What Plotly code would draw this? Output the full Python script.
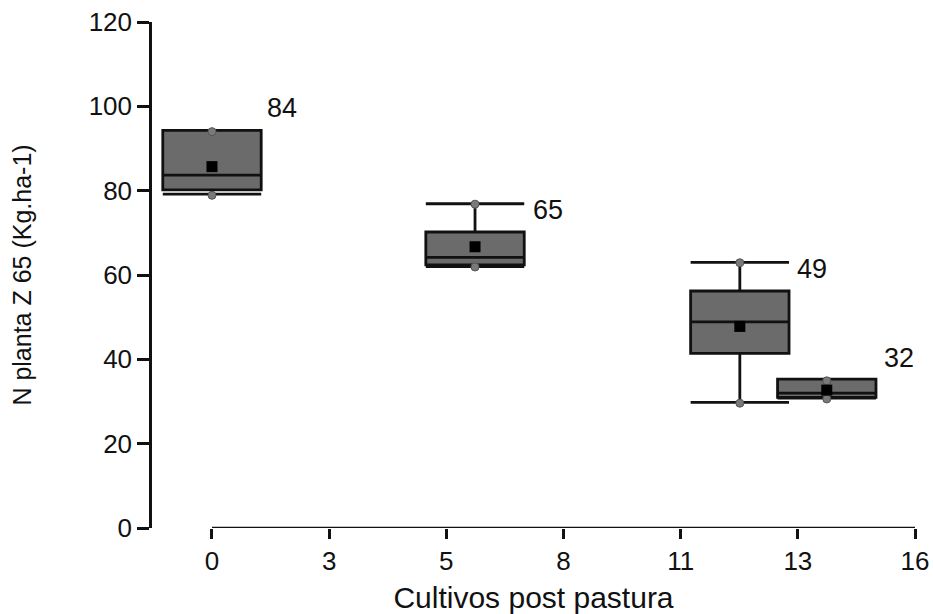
import plotly.graph_objects as go

# ---- data ----
tick_labels = ["0", "3", "5", "8", "11", "13", "16"]
tick_index = [0, 1, 2, 3, 4, 5, 6]
box_pos = [0.0, 2.245, 4.505, 5.247]          # position on the category-index axis
q1 = [80.2, 62.4, 41.4, 31.0]
median = [83.7, 64.2, 48.9, 32.0]
q3 = [94.3, 70.2, 56.2, 35.3]
lower_fence = [79.2, 62.0, 29.8, 30.8]
upper_fence = [94.3, 76.9, 63.0, 35.3]
means = [85.7, 66.7, 47.8, 32.7]
pts_max = [94.0, 76.8, 62.9, 34.9]
pts_min = [78.9, 61.9, 29.6, 30.6]
label_text = ["84", "65", "49", "32"]
label_x = [0.45, 2.72, 4.975, 5.72]
label_y = [99.6, 75.3, 61.4, 40.3]

FONT = "Arial, Liberation Sans, sans-serif"

fig = go.Figure()
fig.add_trace(go.Box(
    x=box_pos, q1=q1, median=median, q3=q3,
    lowerfence=lower_fence, upperfence=upper_fence,
    width=0.84, whiskerwidth=1,
    fillcolor="#6b6b6b", line=dict(color="#111111", width=2.8),
    boxpoints=False, showlegend=False, hoverinfo="skip",
))
fig.add_trace(go.Scatter(
    x=box_pos + box_pos, y=pts_max + pts_min, mode="markers",
    marker=dict(symbol="circle", size=8, color="#7a7a7a",
                line=dict(color="#555555", width=1)),
    showlegend=False, hoverinfo="skip",
))
fig.add_trace(go.Scatter(
    x=box_pos, y=means, mode="markers",
    marker=dict(symbol="square", size=11, color="black"),
    showlegend=False, hoverinfo="skip",
))

for t, x, y in zip(label_text, label_x, label_y):
    fig.add_annotation(x=x, y=y, text=t, showarrow=False, xanchor="left",
                       yanchor="middle", font=dict(family=FONT, size=27, color="#111111"))

# detached x-axis line from first to last tick
fig.add_shape(type="line", xref="x", yref="y", x0=tick_index[0], x1=tick_index[-1],
              y0=0, y1=0, line=dict(color="#111111", width=2.5))

fig.update_layout(
    width=933, height=614,
    margin=dict(l=152, r=18, t=22, b=86, autoexpand=False),
    paper_bgcolor="white", plot_bgcolor="white",
    font=dict(family=FONT, color="#111111"),
    xaxis=dict(
        range=[-0.512, 6.0], tickmode="array", tickvals=tick_index, ticktext=tick_labels,
        showline=False, showgrid=False, zeroline=False, automargin=False,
        ticks="outside", ticklen=10, tickwidth=2.5, tickcolor="#111111",
        tickfont=dict(size=26, family=FONT),
        title=dict(text="Cultivos post pastura", font=dict(size=30, family=FONT), standoff=12),
    ),
    yaxis=dict(
        range=[0, 120], tickvals=[0, 20, 40, 60, 80, 100, 120],
        showline=True, linecolor="#111111", linewidth=2.5,
        showgrid=False, zeroline=False, automargin=False,
        ticks="outside", ticklen=12, tickwidth=2.5, tickcolor="#111111",
        tickfont=dict(size=26, family=FONT),
        title=dict(text="N planta Z 65 (Kg.ha-1)", font=dict(size=25, family=FONT), standoff=50),
    ),
)

fig.write_html("out.html", config={"displayModeBar": False},
               post_script="document.body.style.margin='0';document.body.style.overflow='hidden';")
